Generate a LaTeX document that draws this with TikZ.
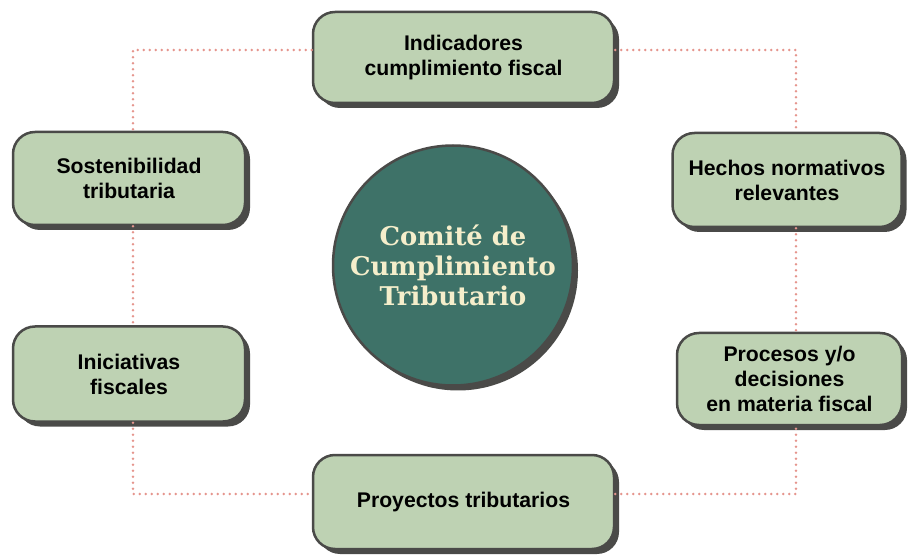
\documentclass[tikz,border=0pt]{standalone}
\usepackage{fontspec}
\setmainfont{Liberation Sans}
\newfontfamily\titlefont{DejaVu Serif}
\usetikzlibrary{shapes,positioning,shadows}

\definecolor{boxgreen}{HTML}{BED2B3}
\definecolor{darkline}{HTML}{4A4A48}
\definecolor{tealfill}{HTML}{3E7268}
\definecolor{creamtext}{HTML}{F5EECB}
\definecolor{salmondot}{HTML}{E5958D}

\begin{document}
\begin{tikzpicture}[
    x=1pt, y=1pt,
    topic node/.style={rectangle,rounded corners=22pt,fill=boxgreen,draw=darkline,line width=2.5pt,
        align=center,font=\fontsize{21.2}{25}\selectfont\bfseries,
        drop shadow={shadow xshift=5pt,shadow yshift=-5pt,fill=darkline,opacity=1}},
    core node/.style={circle,fill=tealfill,draw=darkline,line width=2.5pt,minimum size=240pt,
        align=center,text=creamtext,font=\titlefont\fontsize{25.8}{30}\selectfont\bfseries,
        drop shadow={shadow xshift=5pt,shadow yshift=-5pt,fill=darkline,opacity=1}},
    link/.style={salmondot,line width=2.8pt,dash pattern=on 0pt off 6pt,line cap=round}
]
\useasboundingbox (0,0) rectangle (911,555);

% Center
\node[core node] (core) at (453,289.5) {Comité de\\Cumplimiento\\Tributario};

% Topics
\node[topic node, minimum width=301pt, minimum height=91pt] (ind) at (463.5,497.5) {Indicadores\\cumplimiento fiscal};
\node[topic node, minimum width=232pt, minimum height=93pt] (sost) at (129,376.5) {Sostenibilidad\\tributaria};
\node[topic node, minimum width=229pt, minimum height=94pt] (hech) at (787,375) {Hechos normativos\\relevantes};
\node[topic node, minimum width=232pt, minimum height=95pt] (inic) at (129,181) {Iniciativas\\fiscales};
\node[topic node, minimum width=225pt, minimum height=92pt] (proc) at (789.5,176) {Procesos y/o\\decisiones\\en materia fiscal};
\node[topic node, minimum width=301pt, minimum height=94pt] (proy) at (463.5,53) {Proyectos tributarios};

% Dotted links
\draw[link] ([yshift=7.5pt]ind.west) -| ([xshift=4pt]sost.north);
\draw[link] ([xshift=4pt]sost.south) -- ([xshift=4pt]inic.north);
\draw[link] ([xshift=4pt]inic.south) |- ([yshift=8pt]proy.west);
\draw[link] ([yshift=7.5pt]ind.east) -| ([xshift=9pt]hech.north);
\draw[link] ([xshift=9pt]hech.south) -- ([xshift=6.5pt]proc.north);
\draw[link] ([yshift=8pt]proy.east) -| ([xshift=6.5pt]proc.south);

\end{tikzpicture}
\end{document}
